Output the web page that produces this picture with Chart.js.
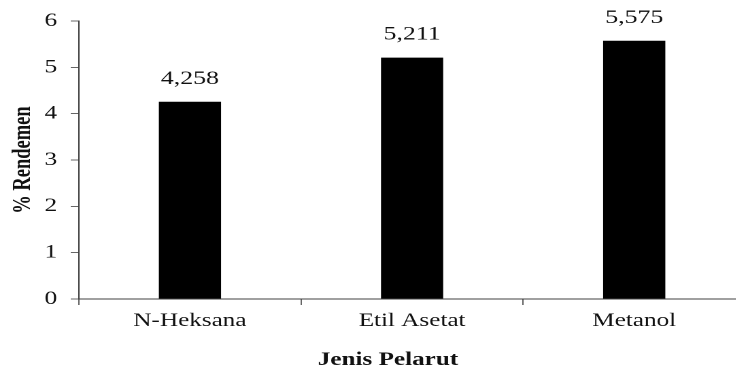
<!DOCTYPE html>
<html>
<head>
<meta charset="utf-8">
<script src="https://cdn.jsdelivr.net/npm/chart.js@4.4.1/dist/chart.umd.min.js"></script>
<style>
    body { margin: 0; overflow: hidden; background: #fff; }
    /* the reference is stretched sideways, so draw narrow and widen it */
    #wrap { width: 552px; height: 371px; transform: scaleX(1.36); transform-origin: 0 0; }
</style>
</head>
<body>
<div id="wrap"><canvas id="rendemenChart" width="552" height="371"></canvas></div>
<script>
// Data
const categories = ["N-Heksana", "Etil Asetat", "Metanol"];
const rendemen = [4.258, 5.211, 5.575];
const yMin = 0;
const yMax = 6;
const yStep = 1;

const serif = '"Liberation Serif", "Times New Roman", serif';
const textColor = "#111";
const axisColor = "#404040";

// value labels above the bars, with a comma as decimal mark
const barValueLabels = {
    id: "barValueLabels",
    afterDatasetsDraw(chart) {
        const ctx = chart.ctx;
        const meta = chart.getDatasetMeta(0);
        ctx.save();
        ctx.font = "19px " + serif;
        ctx.fillStyle = textColor;
        ctx.textAlign = "center";
        ctx.textBaseline = "alphabetic";
        meta.data.forEach((bar, i) => {
            ctx.fillText(rendemen[i].toFixed(3).replace(".", ","), bar.x, bar.y - 18);
        });
        ctx.restore();
    }
};

const ctx = document.getElementById("rendemenChart").getContext("2d");
new Chart(ctx, {
    type: "bar",
    data: {
        labels: categories,
        datasets: [{
            data: rendemen,
            backgroundColor: "#000",
            borderWidth: 0,
            barPercentage: 0.28,
            categoryPercentage: 1
        }]
    },
    options: {
        responsive: false,
        animation: false,
        devicePixelRatio: 2,
        // left padding pushes the bottom title a bit off the axis centre, like the original
        layout: { padding: { top: 20, right: 4, left: 22.6, bottom: 0 } },
        plugins: {
            legend: { display: false },
            tooltip: { enabled: false },
            title: {
                display: true,
                position: "bottom",
                text: "Jenis Pelarut",
                color: textColor,
                font: { family: serif, size: 18.5, weight: "bold", lineHeight: 1.19 },
                padding: { top: 0, bottom: 0 }
            }
        },
        scales: {
            x: {
                afterFit: (scale) => { scale.height = 50; },
                grid: {
                    offset: true,
                    drawOnChartArea: false,
                    drawTicks: true,
                    tickLength: 6,
                    color: "#666"
                },
                border: { display: true, color: axisColor, width: 1 },
                ticks: {
                    padding: 5,
                    color: textColor,
                    font: { family: serif, size: 18.5 }
                }
            },
            y: {
                min: yMin,
                max: yMax,
                afterFit: (scale) => { scale.width = 35.4; },
                grid: {
                    drawOnChartArea: false,
                    drawTicks: true,
                    tickLength: 6,
                    color: "#666"
                },
                border: { display: true, color: axisColor, width: 1 },
                ticks: {
                    stepSize: yStep,
                    padding: 10,
                    color: textColor,
                    font: { family: serif, size: 18.5 }
                },
                title: {
                    display: true,
                    text: "% Rendemen",
                    color: textColor,
                    font: { family: serif, size: 18.5, weight: "bold" },
                    padding: { top: -16.7, bottom: 0 }
                }
            }
        }
    },
    plugins: [barValueLabels]
});
</script>
</body>
</html>
